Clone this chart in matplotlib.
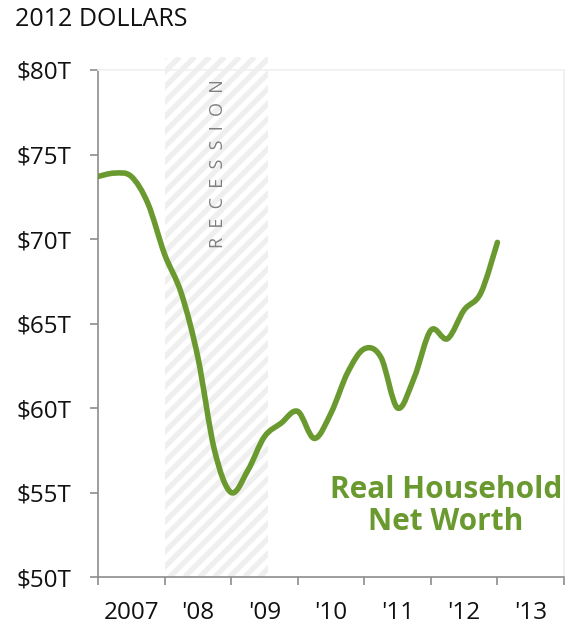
import matplotlib
matplotlib.use("Agg")
import matplotlib.pyplot as plt
from matplotlib.path import Path
from matplotlib.patches import PathPatch, Rectangle
from matplotlib.collections import LineCollection
from matplotlib.transforms import IdentityTransform
import numpy as np

# quarterly real household net worth, trillions of 2012 dollars
quarters = [2007 + i / 4 for i in range(25)]
net_worth = [73.7, 73.9, 73.7, 72.1, 69.1, 66.8, 63.0, 57.5, 55.0, 56.3,
             58.3, 59.1, 59.8, 58.2, 59.7, 62.1, 63.5, 63.0, 60.0, 61.8,
             64.6, 64.1, 65.8, 66.8, 69.8]

year_ticks = [2007, 2008, 2009, 2010, 2011, 2012, 2013, 2014]
year_labels = ["2007", "'08", "'09", "'10", "'11", "'12", "'13"]
y_ticks = [50, 55, 60, 65, 70, 75, 80]
y_labels = ["$50T", "$55T", "$60T", "$65T", "$70T", "$75T", "$80T"]
recession = (2008.0, 2009.56)

green = "#6a9a2f"
plt.rcParams["font.family"] = ["Open Sans", "DejaVu Sans"]

fig = plt.figure(figsize=(5.65, 6.3), dpi=100)
ax = fig.add_axes([98 / 565, 1 - 577 / 630, 466 / 565, 507 / 630])
ax.set_xlim(2007, 2014)
ax.set_ylim(50, 80)

# recession band with diagonal stripes, runs a bit above the plot top
(x0, y0), (x1, y1) = ax.transData.transform([(recession[0], 50), (recession[1], 80.77)])
h = y1 - y0
segs = [[(x0 + k, y0), (x0 + k + h, y1)] for k in np.arange(-h, x1 - x0, 15)]
stripes = LineCollection(segs, colors="#efefef", linewidths=3.8,
                         transform=IdentityTransform(), zorder=0.5)
ax.add_collection(stripes, autolim=False)
stripes.set_clip_box(None)
stripes.set_clip_path(Path([(x0, y0), (x1, y0), (x1, y1), (x0, y1), (x0, y0)], closed=True),
                      IdentityTransform())

ax.text(sum(recession) / 2 + 0.02, 74.45, "R  E  C  E  S  S  I  O  N", rotation=90,
        ha="center", va="center", fontsize=13, color="#7f7f7f", zorder=1)

# smoothed line (catmull-rom style bezier, like excel's smoothed lines)
pts = np.column_stack([quarters, net_worth])
ext = np.vstack([pts[0], pts, pts[-1]])
verts = [pts[0]]
codes = [Path.MOVETO]
for i in range(len(pts) - 1):
    p0, p1, p2, p3 = ext[i], ext[i + 1], ext[i + 2], ext[i + 3]
    verts += [p1 + (p2 - p0) / 6, p2 - (p3 - p1) / 6, p2]
    codes += [Path.CURVE4] * 3
ax.add_patch(PathPatch(Path(verts, codes), facecolor="none", edgecolor=green,
                       lw=4, capstyle="round", joinstyle="round", zorder=3))

ax.text(2012.23, 54.2, "Real Household\nNet Worth", ha="center", va="center",
        fontsize=21.5, fontweight="bold", color=green, linespacing=1.12)

ax.set_yticks(y_ticks)
ax.set_yticklabels(y_labels)
ax.set_xticks(year_ticks)
ax.set_xticklabels([])
ax.set_xticks([y + 0.5 for y in year_ticks[:-1]], minor=True)
ax.set_xticklabels(year_labels, minor=True)
ax.tick_params(axis="y", length=6, width=1.2, color="#8c8c8c", pad=13,
               labelsize=17.5, labelcolor="#111111")
ax.tick_params(axis="x", which="major", length=6, width=1.2, color="#8c8c8c")
ax.tick_params(axis="x", which="minor", length=0, pad=17, labelsize=17.5,
               labelcolor="#111111")

for s in ["left", "bottom"]:
    ax.spines[s].set_color("#8c8c8c")
    ax.spines[s].set_linewidth(1.2)
for s in ["top", "right"]:
    ax.spines[s].set_color("#f0f0f0")
    ax.spines[s].set_linewidth(1.2)

fig.text(15 / 565, 1 - 20 / 630, "2012 DOLLARS", ha="left", va="center",
         fontsize=18, color="#111111")

fig.savefig("out.png", dpi=100)
